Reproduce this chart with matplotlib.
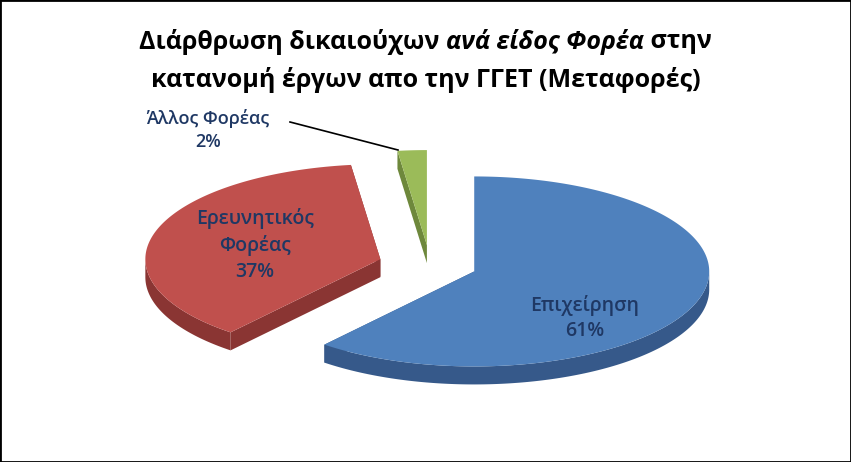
import numpy as np
import matplotlib.pyplot as plt
from matplotlib.patches import Polygon, Rectangle

plt.rcParams['font.family'] = ['Open Sans', 'DejaVu Sans']

labels = ['Επιχείρηση', 'Ερευνητικός\nΦορέας', 'Άλλος Φορέας']
shares = [61, 37, 2]
explode = [0.2, 0.22, 0.21]
top_colors = ['#4F81BD', '#C0504D', '#9BBB59']
side_colors = ['#36598A', '#8A3533', '#6E883C']

W, H = 851, 462
fig = plt.figure(figsize=(W / 100, H / 100), dpi=100)
ax = fig.add_axes([0, 0, 1, 1])
ax.set_xlim(0, W)
ax.set_ylim(H, 0)
ax.axis('off')
fig.patches.append(Rectangle((0, 0), 1, 1, transform=fig.transFigure, fill=False,
                             edgecolor='black', linewidth=2))

cx0, cy0, rx, ry, depth = 430, 265, 235, 95, 18
total = sum(shares)
start = 90.0
wedges = []
for i, v in enumerate(shares):
    sweep = v / total * 360
    a1, a0 = start, start - sweep
    mid = np.radians((a0 + a1) / 2)
    cx = cx0 + explode[i] * np.cos(mid) * rx
    cy = cy0 - explode[i] * np.sin(mid) * ry
    wedges.append((cx, cy, a0, a1, mid))
    start = a0

def pt(cx, cy, a):
    return cx + rx * np.cos(a), cy - ry * np.sin(a)

# sides
for i, (cx, cy, a0, a1, mid) in enumerate(wedges):
    # radial faces
    for a in (a0, a1):
        x, y = pt(cx, cy, np.radians(a))
        quad = [(cx, cy), (x, y), (x, y + depth), (cx, cy + depth)]
        ax.add_patch(Polygon(quad, closed=True, facecolor=side_colors[i], edgecolor='none'))
    # outer arc where it faces front
    t = np.radians(np.linspace(a0, a1, 300))
    front = np.sin(t) < 0
    if front.any():
        tt = t[front]
        xs, ys = pt(cx, cy, tt)
        poly = list(zip(xs, ys)) + list(zip(xs[::-1], ys[::-1] + depth))
        ax.add_patch(Polygon(poly, closed=True, facecolor=side_colors[i], edgecolor='none'))

# tops
for i, (cx, cy, a0, a1, mid) in enumerate(wedges):
    t = np.radians(np.linspace(a0, a1, 300))
    xs, ys = pt(cx, cy, t)
    poly = [(cx, cy)] + list(zip(xs, ys))
    ax.add_patch(Polygon(poly, closed=True, facecolor=top_colors[i], edgecolor='none'))

lab_col = '#1F3864'
ax.text(585, 318, f'{labels[0]}\n{shares[0]}%', ha='center', va='center', fontsize=14,
        color=lab_col, linespacing=1.4, fontweight='semibold')
ax.text(255, 245, f'{labels[1]}\n{shares[1]}%', ha='center', va='center', fontsize=14,
        color=lab_col, linespacing=1.4, fontweight='semibold')
ax.text(208, 130, f'{labels[2]}\n{shares[2]}%', ha='center', va='center', fontsize=13,
        color=lab_col, linespacing=1.4, fontweight='semibold')
ax.plot([290, 398], [122, 150], color='black', lw=1.2)

# title, mixed styles on the first line
parts = [('Διάρθρωση δικαιούχων ', 'normal'), ('ανά είδος Φορέα', 'italic'), (' στην', 'normal')]
fs = 18
fig.canvas.draw()
r = fig.canvas.get_renderer()
objs = []
for s, st in parts:
    tx = ax.text(0, 42, s, fontsize=fs, fontweight='bold', style=st, va='center', ha='left')
    objs.append(tx)
widths = [o.get_window_extent(r).width for o in objs]
x = W / 2 - sum(widths) / 2
for o, w in zip(objs, widths):
    o.set_x(x)
    x += w
ax.text(W / 2, 80, 'κατανομή έργων απο την ΓΓΕΤ (Μεταφορές)', fontsize=fs,
        fontweight='bold', ha='center', va='center')

fig.savefig('out.png', dpi=100)
